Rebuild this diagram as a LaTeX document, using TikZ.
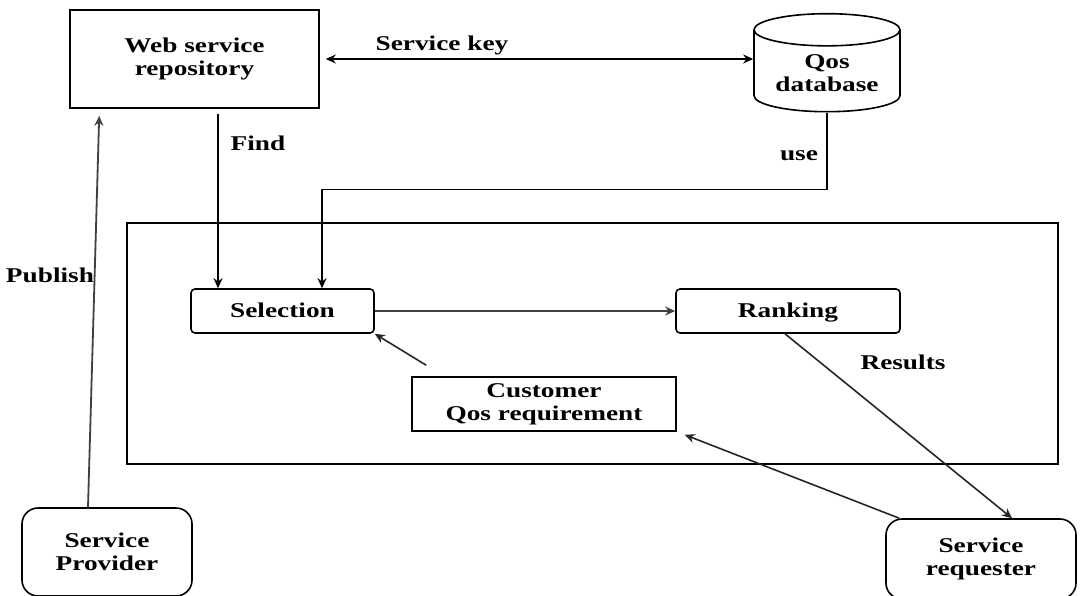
\documentclass[tikz,border=0pt]{standalone}
\usepackage{fontspec}
\setmainfont[FakeStretch=1.3]{Liberation Serif}
\usetikzlibrary{shapes.geometric,arrows.meta}
\tikzstyle{box}=[draw,line width=1.6pt,align=center,inner sep=2pt]
\tikzstyle{rbox}=[box,rounded corners=4pt,text depth=0.25em]
\tikzstyle{bigrbox}=[box,rounded corners=16pt]
\tikzstyle{db}=[draw,line width=1.6pt,cylinder,shape border rotate=90,aspect=0.3,align=center,inner sep=2pt]
\tikzstyle{tag}=[inner sep=1pt]

\begin{document}
\begin{tikzpicture}[x=1pt,y=-1pt,line width=1.6pt,
    font=\fontsize{21}{23}\selectfont\bfseries,
    >={Stealth[length=10pt,width=9pt]}]
      \useasboundingbox (0,0) rectangle (1084,595);
      \node[box,minimum width=249,minimum height=98] (repo) at (194.5,59) {Web service\\repository};
      \node[db,minimum width=146,minimum height=98] (qos) at (827,73) {Qos\\database};
      \node[rbox,minimum width=183,minimum height=44] (sel) at (282.5,311) {Selection};
      \node[rbox,minimum width=224,minimum height=44] (rank) at (788,311) {Ranking};
      \node[box,minimum width=264,minimum height=54] (cust) at (544,404) {Customer\\Qos requirement};
      \node[bigrbox,minimum width=170,minimum height=88] (prov) at (107,552) {Service\\Provider};
      \node[bigrbox,minimum width=190,minimum height=80] (req) at (981,559) {Service\\requester};
      \draw (127,223) rectangle (1058,464);
      \node[tag] (keytag) at (442,45) {Service key};
      \node[tag] (findtag) at (258,143) {Find};
      \node[tag] (usetag) at (799,156) {use};
      \node[tag] (pubtag) at (50,275) {Publish};
      \node[tag] (restag) at (903,362) {Results};
      \draw[<->] ([shift={(6,0)}]repo.east) -- (repo.east -| qos.west);
      \draw[->] ([shift={(23.5,5)}]repo.south) -- ([shift={(23.5,0)}]repo.south |- sel.north);
      \draw[->] (qos.south) -- ++(0,77) -| ([shift={(39.5,0)}]sel.north);
      \draw[->,black!75] (sel) -- (rank);
      \draw[->,black!85] ([shift={(15,-11)}]cust.north west) -- (sel.south east);
      \draw[->,black!85] ([shift={(-3,0)}]rank.south) -- ([shift={(31,0)}]req.north);
      \draw[->,black!85] ([shift={(14,0)}]req.north west) -- ([shift={(8,3)}]cust.south east);
      \draw[->,black!75,line width=1.8pt] ([shift={(-19,0)}]prov.north) -- ([shift={(30,7)}]repo.south west);
    \end{tikzpicture}
\end{document}
